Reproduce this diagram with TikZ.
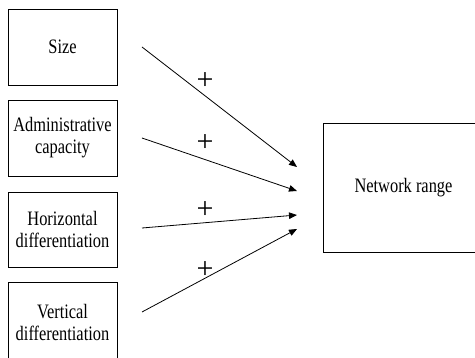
\documentclass[tikz,border=0pt]{standalone}
\usepackage{fontspec}
\setmainfont{Liberation Serif}
\newfontfamily\condfont[FakeStretch=0.8]{Liberation Serif}
\usetikzlibrary{arrows.meta}
\begin{document}
\begin{tikzpicture}[x=1pt,y=-1pt,
  box/.style={draw=black, line width=0.9pt, inner sep=0pt, align=center,
    font=\condfont\fontsize{20.5}{22}\selectfont},
  arr/.style={line width=0.8pt, -{Triangle[length=8pt,width=6.5pt]}},
  plus/.style={font=\fontsize{30}{32}\selectfont, inner sep=0pt}]
\useasboundingbox (0,0) rectangle (475,358);
\clip (0,0) rectangle (475,358);
\node[box, minimum width=109pt, minimum height=76pt] (size) at (62.5,47) {Size};
\node[box, minimum width=109pt, minimum height=76pt] (adm) at (62.5,138) {Administrative\\capacity};
\node[box, minimum width=109pt, minimum height=75pt] (hor) at (62.5,229.5) {Horizontal\\differentiation};
\node[box, minimum width=109pt, minimum height=80pt] (ver) at (62.5,322) {Vertical\\differentiation};
\node[box, minimum width=161pt, minimum height=129pt] (net) at (403.5,187.5) {Network range};
\coordinate (s1) at (142,47);
\coordinate (s2) at (142,138);
\coordinate (s3) at (142,228);
\coordinate (s4) at (142,312);
\coordinate (t1) at (297,167);
\coordinate (t2) at (297,191);
\coordinate (t3) at (297,215);
\coordinate (t4) at (297,229);
\draw[arr] (s1) -- (t1);
\draw[arr] (s2) -- (t2);
\draw[arr] (s3) -- (t3);
\draw[arr] (s4) -- (t4);
\node[plus] (p1) at (205,81) {+};
\node[plus] (p2) at (205,143) {+};
\node[plus] (p3) at (205,210) {+};
\node[plus] (p4) at (205,270) {+};
\end{tikzpicture}
\end{document}
